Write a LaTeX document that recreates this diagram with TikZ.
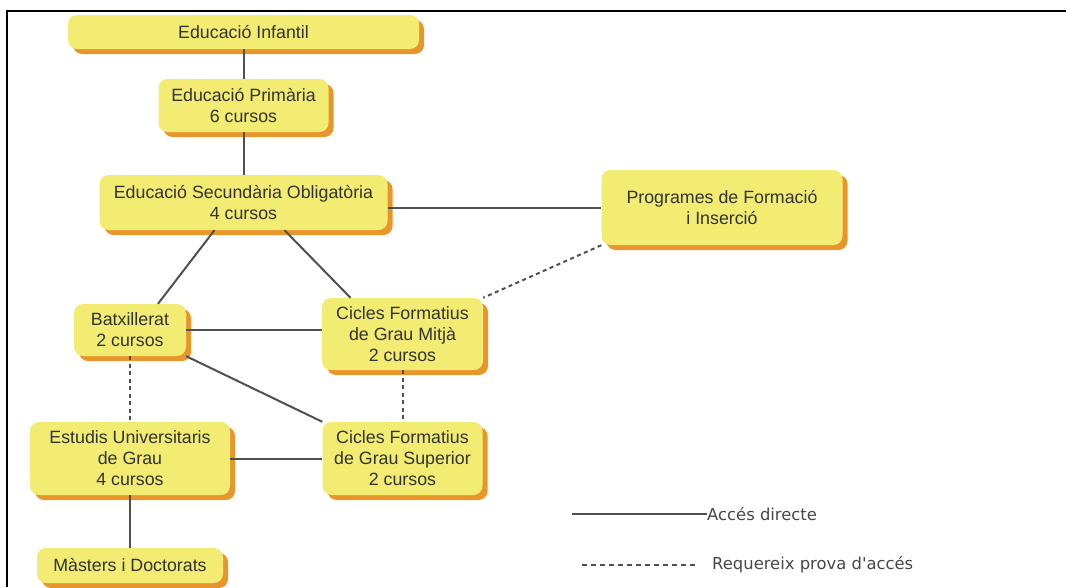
\documentclass[tikz,border=0pt]{standalone}
\usepackage{fontspec}
\setmainfont{Liberation Sans}
\newfontfamily\legendfont{DejaVu Sans}
\usepackage{tikz}
\usetikzlibrary{shadows}
\definecolor{groc}{HTML}{F2EC72}
\definecolor{taronja}{HTML}{E8962C}
\definecolor{lletra}{HTML}{333333}
\definecolor{linia}{HTML}{505050}

\begin{document}
\begin{tikzpicture}[x=1pt,y=-1pt,
		caixa/.style={rectangle, rounded corners=9pt, fill=groc, text=lletra, align=center, inner sep=0pt,
			font=\fontsize{17.8}{21}\selectfont,
			drop shadow={shadow xshift=5pt, shadow yshift=-5pt, fill=taronja, opacity=1}},
		directe/.style={draw=linia, line width=2pt},
		prova/.style={draw=linia, line width=2pt, dash pattern=on 4pt off 3.5pt},
		llegenda/.style={inner sep=0pt, text=lletra!90, font=\legendfont\fontsize{16.4}{19}\selectfont}]
		\useasboundingbox (0,0) rectangle (1066,587);
		\draw[line width=2pt] (1066,11) -- (7,11) -- (7,587);
		\node[caixa, minimum width=351pt, minimum height=34pt] (EI) at (243.5,32) {Educació Infantil};
		\node[caixa, minimum width=170pt, minimum height=53pt] (EP) at (243.5,105.5) {Educació Primària\\6 cursos};
		\node[caixa, minimum width=288pt, minimum height=55pt] (ESO) at (243.5,202.5) {Educació Secundària Obligatòria\\4 cursos};
		\node[caixa, minimum width=241pt, minimum height=75pt] (PFI) at (722,207.5) {Programes de Formació\\i Inserció};
		\node[caixa, minimum width=112pt, minimum height=52pt] (BAT) at (130,330) {Batxillerat\\2 cursos};
		\node[caixa, minimum width=161pt, minimum height=72pt] (CGM) at (402.5,334) {Cicles Formatius\\de Grau Mitjà\\2 cursos};
		\node[caixa, minimum width=160pt, minimum height=73pt] (CGS) at (402.5,458.5) {Cicles Formatius\\de Grau Superior\\2 cursos};
		\node[caixa, minimum width=200pt, minimum height=73pt] (EU) at (130,458.5) {Estudis Universitaris\\de Grau\\4 cursos};
		\node[caixa, minimum width=186pt, minimum height=35pt] (MD) at (130,565.5) {Màsters i Doctorats};
		\draw[directe] (EI) -- (EP);
		\draw[directe] (EP) -- (ESO);
		\draw[directe] (ESO.east |- PFI.west) -- (PFI.west);
		\draw[directe] ([xshift=-29pt]ESO.south) -- ([xshift=28pt]BAT.north);
		\draw[directe] ([xshift=41pt]ESO.south) -- ([xshift=-52pt]CGM.north);
		\draw[directe] (BAT.east) -- (BAT.east -| CGM.west);
		\draw[directe] (BAT.south east) -- (CGS.north west);
		\draw[directe] (EU) -- (CGS);
		\draw[directe] (EU) -- (MD);
		\draw[prova] (BAT) -- (EU);
		\draw[prova] (CGM) -- (CGS);
		\draw[prova] (PFI.south west) -- (CGM.north east);
		\coordinate (LA) at (572,514);
		\node[llegenda, anchor=west] (AD) at (707,514) {Accés directe};
		\draw[draw=linia, line width=1.5pt] (LA) -- (AD.west);
		\coordinate (LB) at (582,565);
		\node[llegenda, anchor=west] (RP) at (712,565) {Requereix prova d\textquotesingle accés};
		\draw[draw=linia, line width=1.2pt, dash pattern=on 5pt off 4pt] (LB) -- ([xshift=-14pt]RP.west);
	\end{tikzpicture}
\end{document}
